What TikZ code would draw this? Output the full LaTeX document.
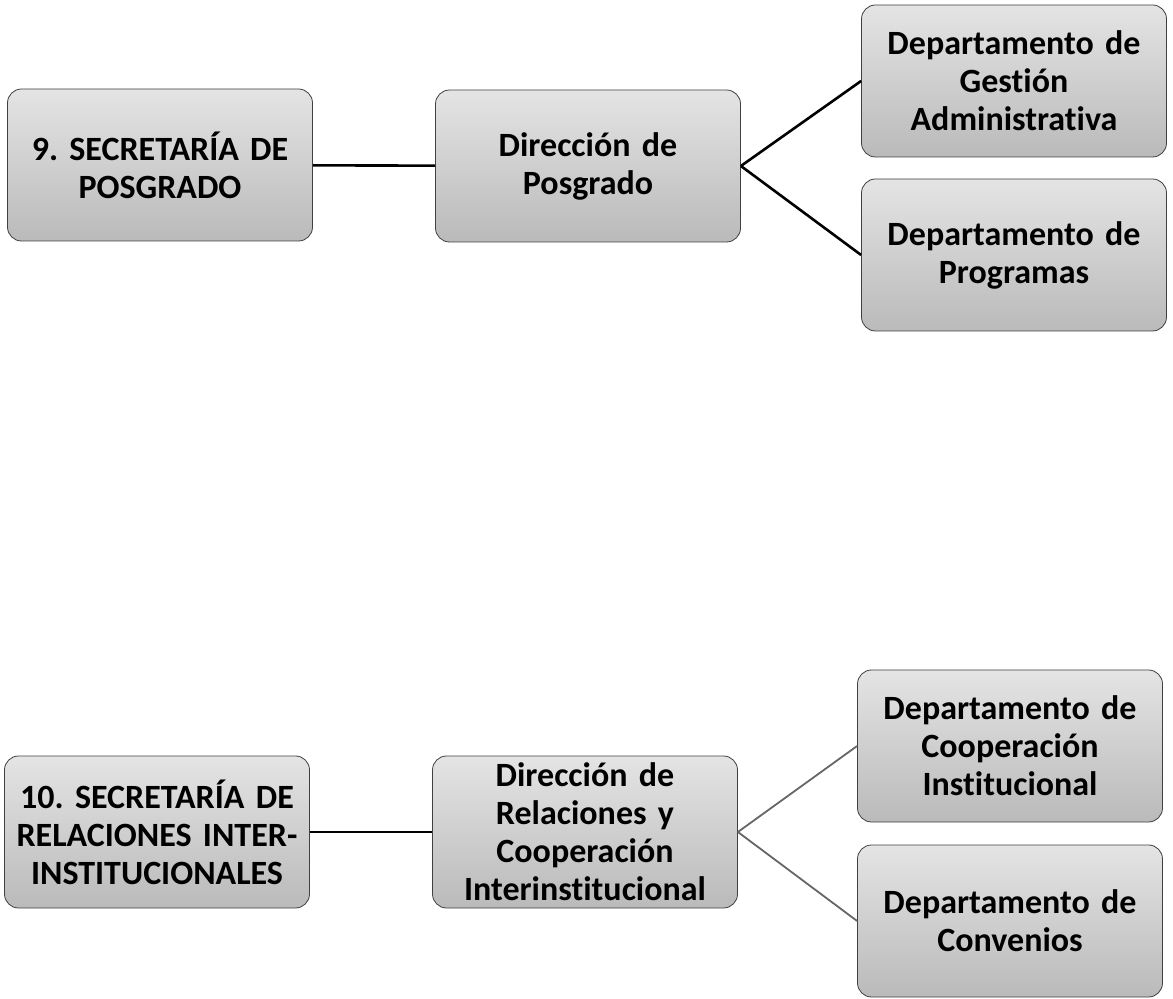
\documentclass[tikz,border=0pt]{standalone}
\usepackage{fontspec}
\setmainfont{Carlito}[Ligatures=NoCommon]
\usepackage{xcolor}
\usepackage{tikz}
\definecolor{boxtop}{RGB}{228,228,228}
\definecolor{boxbottom}{RGB}{186,186,186}
\frenchspacing

\begin{document}
\begin{tikzpicture}[x=0.5pt, y=-0.5pt,
  orgbox/.style={draw=black!75, rounded corners=7pt, top color=boxtop, bottom color=boxbottom,
    minimum width=152.5pt, minimum height=76pt, text width=148pt, align=center, inner sep=1pt,
    font=\bfseries\fontsize{17}{19}\selectfont},
  link/.style={line width=1.3pt, black},
  thinlink/.style={line width=0.9pt, black!60}]
\useasboundingbox (0,0) rectangle (1173,999);

% Secretaria de Posgrado
\node[orgbox] (sec9) at (160,165) {9. SECRETARÍA DE\\POSGRADO};
\node[orgbox] (dir9) at (588,166) {Dirección de\\Posgrado};
\node[orgbox] (gestion) at (1014,81) {Departamento de\\Gestión\\Administrativa};
\node[orgbox] (programas) at (1014,255) {Departamento de\\Programas};

\draw[link] (sec9) -- (dir9);
\draw[link] (dir9.east) -- (gestion.west);
\draw[link] (dir9.east) -- (programas.west);

% Secretaria de Relaciones Inter-Institucionales
\node[orgbox] (sec10) at (157,832) {10. SECRETARÍA DE\\RELACIONES INTER-\\INSTITUCIONALES};
\node[orgbox] (dir10) at (585,832) {Dirección de\\Relaciones y\\Cooperación\\Interinstitucional};
\node[orgbox] (cooperacion) at (1010,746) {Departamento de\\Cooperación\\Institucional};
\node[orgbox] (convenios) at (1010,921) {Departamento de\\Convenios};

\draw[link] (sec10) -- (dir10);
\draw[thinlink] (dir10.east) -- (cooperacion.west);
\draw[thinlink] (dir10.east) -- (convenios.west);
\end{tikzpicture}
\end{document}
